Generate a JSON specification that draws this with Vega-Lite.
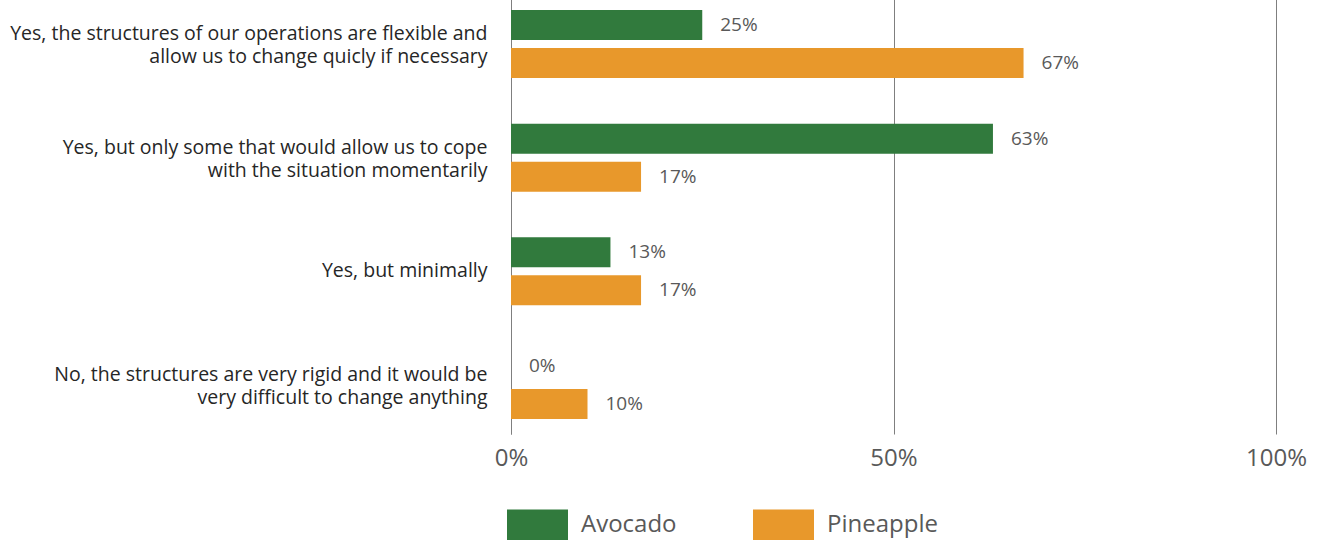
{
  "$schema": "https://vega.github.io/schema/vega-lite/v6.json",
  "autosize": "none",
  "width": 765,
  "height": 439,
  "padding": {"left": 511, "top": -5, "right": 47, "bottom": 106},
  "background": "white",
  "config": {
    "view": {"stroke": null},
    "font": "Open Sans"
  },
  "data": {
    "values": [
      {"category": "Yes, the structures of our operations are flexible and|allow us to change quicly if necessary", "series": "Avocado", "value": 0.25},
      {"category": "Yes, the structures of our operations are flexible and|allow us to change quicly if necessary", "series": "Pineapple", "value": 0.67},
      {"category": "Yes, but only some that would allow us to cope|with the situation momentarily", "series": "Avocado", "value": 0.63},
      {"category": "Yes, but only some that would allow us to cope|with the situation momentarily", "series": "Pineapple", "value": 0.17},
      {"category": "Yes, but minimally", "series": "Avocado", "value": 0.13},
      {"category": "Yes, but minimally", "series": "Pineapple", "value": 0.17},
      {"category": "No, the structures are very rigid and it would be|very difficult to change anything", "series": "Avocado", "value": 0.0},
      {"category": "No, the structures are very rigid and it would be|very difficult to change anything", "series": "Pineapple", "value": 0.10}
    ]
  },
  "encoding": {
    "y": {
      "field": "category",
      "type": "nominal",
      "sort": null,
      "scale": {"paddingInner": 0.4018, "paddingOuter": 0.132},
      "axis": {
        "title": null,
        "domain": true,
        "domainColor": "#7f7f7f",
        "domainWidth": 1,
        "ticks": false,
        "grid": false,
        "labelExpr": "split(datum.label, '|')",
        "labelFontSize": 19.5,
        "labelLineHeight": 23,
        "labelColor": "#262626",
        "labelPadding": 24,
        "labelLimit": 600,
        "labelAlign": "right",
        "labelBaseline": "middle",
        "labelOffset": {"condition": {"test": "indexof(datum.label, '|') >= 0", "value": -10}, "value": 0}
      }
    },
    "yOffset": {
      "field": "series",
      "type": "nominal",
      "scale": {"paddingInner": 0.21, "paddingOuter": 0}
    },
    "x": {
      "field": "value",
      "type": "quantitative",
      "scale": {"domain": [0, 1], "nice": false},
      "axis": {
        "title": null,
        "values": [0, 0.5, 1],
        "format": ".0%",
        "domain": false,
        "ticks": false,
        "grid": true,
        "gridColor": "#7f7f7f",
        "gridWidth": 1,
        "labelFontSize": 24,
        "labelColor": "#595959",
        "labelPadding": 12,
        "labelFlush": false
      }
    }
  },
  "layer": [
    {
      "mark": {"type": "bar"},
      "encoding": {
        "color": {
          "field": "series",
          "type": "nominal",
          "scale": {"domain": ["Avocado", "Pineapple"], "range": ["#317A3D", "#E8982B"]},
          "legend": {
            "title": null,
            "orient": "none",
            "legendX": -4,
            "legendY": 499,
            "direction": "horizontal",
            "symbolType": "M-1,-0.5H1V0.5H-1Z",
            "symbolSize": 3721,
            "symbolStrokeWidth": 0,
            "labelFontSize": 24,
            "labelColor": "#595959",
            "labelOffset": 13,
            "columnPadding": 76
          }
        }
      }
    },
    {
      "mark": {"type": "text", "align": "left", "baseline": "middle", "dx": 18, "fontSize": 19, "color": "#595959"},
      "encoding": {
        "text": {"field": "value", "type": "quantitative", "format": ".0%"}
      }
    }
  ]
}
